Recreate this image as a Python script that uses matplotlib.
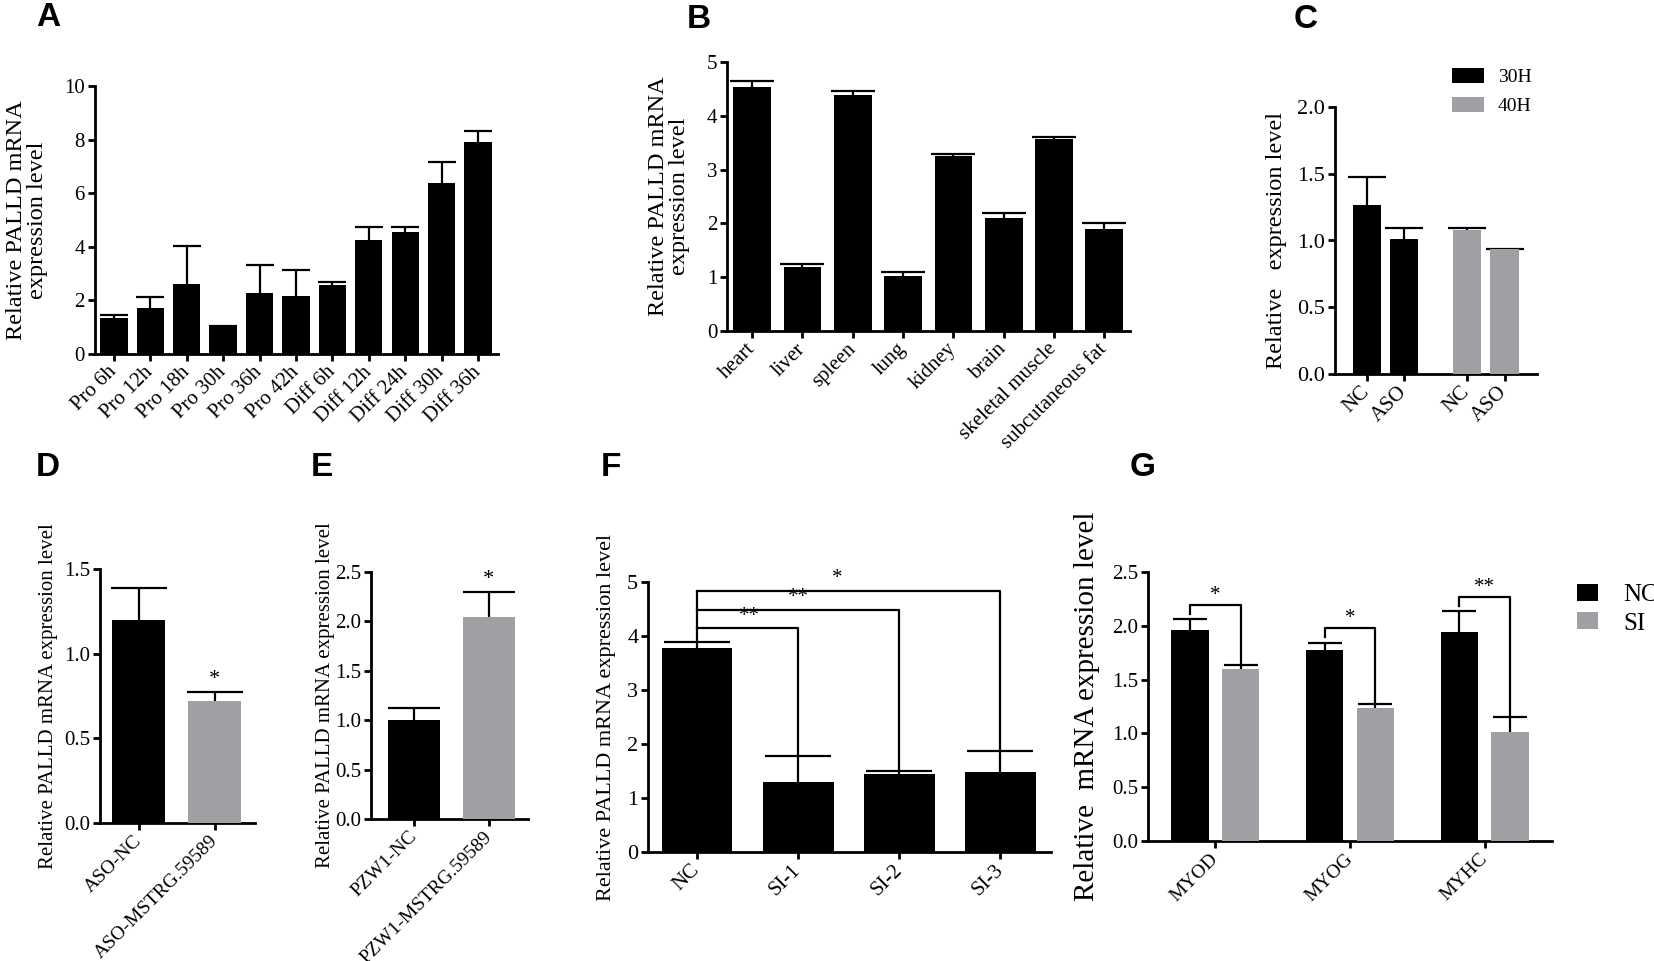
import numpy as np
import matplotlib
matplotlib.use("Agg")
import matplotlib.pyplot as plt

plt.rcParams['font.family'] = ['Liberation Serif', 'DejaVu Serif']
plt.rcParams['axes.linewidth'] = 2.0

GREY = '#a0a0a4'

# ---- A : time course
a_labels = ['Pro 6h', 'Pro 12h', 'Pro 18h', 'Pro 30h', 'Pro 36h', 'Pro 42h',
            'Diff 6h', 'Diff 12h', 'Diff 24h', 'Diff 30h', 'Diff 36h']
a_mean = [1.36, 1.71, 2.63, 1.03, 2.26, 2.16, 2.56, 4.27, 4.54, 6.39, 7.92]
a_err = [0.10, 0.40, 1.41, 0.00, 1.07, 0.98, 0.13, 0.46, 0.19, 0.77, 0.39]

# ---- B : tissues
b_labels = ['heart', 'liver', 'spleen', 'lung', 'kidney', 'brain',
            'skeletal muscle', 'subcutaneous fat']
b_mean = [4.53, 1.19, 4.39, 1.02, 3.26, 2.10, 3.57, 1.90]
b_err = [0.12, 0.05, 0.08, 0.07, 0.03, 0.10, 0.03, 0.10]

# ---- C : ASO at 30H / 40H
c_groups = ['30H', '40H']
c_labels = ['NC', 'ASO']
c_mean = {'30H': [1.265, 1.011], '40H': [1.078, 0.934]}
c_err = {'30H': [0.21, 0.085], '40H': [0.018, 0.005]}

# ---- D
d_labels = ['ASO-NC', 'ASO-MSTRG.59589']
d_mean = [1.199, 0.721]
d_err = [0.189, 0.052]
d_sig = ['', '*']

# ---- E
e_labels = ['PZW1-NC', 'PZW1-MSTRG.59589']
e_mean = [1.007, 2.045]
e_err = [0.118, 0.253]
e_sig = ['', '*']

# ---- F
f_labels = ['NC', 'SI-1', 'SI-2', 'SI-3']
f_mean = [3.775, 1.30, 1.44, 1.485]
f_err = [0.105, 0.48, 0.06, 0.39]
f_bracket = [4.14, 4.48, 4.83]
f_sig = ['**', '**', '*']

# ---- G
g_genes = ['MYOD', 'MYOG', 'MYHC']
g_nc = [1.963, 1.771, 1.942]
g_nc_err = [0.100, 0.072, 0.195]
g_si = [1.598, 1.238, 1.011]
g_si_err = [0.035, 0.034, 0.137]
g_bracket = [2.193, 1.98, 2.27]
g_sig = ['*', '*', '**']

W, H = 1654, 961
fig = plt.figure(figsize=(W / 100, H / 100), dpi=100)


def px_axes(left, top, right, bottom):
    return fig.add_axes([left / W, 1 - bottom / H, (right - left) / W, (bottom - top) / H])


def prism(ax, fs):
    ax.spines['top'].set_visible(False)
    ax.spines['right'].set_visible(False)
    ax.tick_params(axis='both', width=2, length=5, labelsize=fs, pad=2)


def ebar(ax, x, y, e, cap):
    eb = ax.errorbar(x, y, yerr=[np.zeros(len(e)), e], fmt='none', ecolor='black',
                     elinewidth=1.6, capsize=cap, capthick=1.6, zorder=2)
    eb[1][0].set_visible(False)


def ylab(ax, text, fs, xc):
    ax.set_ylabel(text, fontsize=fs, va='center', ha='center', linespacing=1.0)
    ax.yaxis.set_label_coords(xc, 0.5)


def xlabs(ax, pos, labels, fs):
    ax.set_xticks(pos)
    ax.set_xticklabels(labels, rotation=45, ha='right', va='center',
                       rotation_mode='anchor', fontsize=fs)
    ax.tick_params(axis='x', pad=6)


# ================= A
ax = px_axes(94.6, 86, 498, 354)
x = np.arange(len(a_labels))
ax.bar(x, a_mean, width=0.75, color='black', zorder=3)
ebar(ax, x, a_mean, a_err, 10)
ax.set_ylim(0, 10)
ax.set_yticks([0, 2, 4, 6, 8, 10])
ax.set_xlim(-0.53, 10.55)
prism(ax, 15)
xlabs(ax, x, a_labels, 15)
ylab(ax, 'Relative PALLD mRNA\nexpression level', 17.5, -0.168)

# ================= B
ax = px_axes(727, 62, 1130, 331)
x = np.arange(len(b_labels))
ax.bar(x, b_mean, width=0.75, color='black', zorder=3)
ebar(ax, x, b_mean, b_err, 16)
ax.set_ylim(0, 5)
ax.set_xlim(-0.5, 7.51)
prism(ax, 15)
xlabs(ax, x, b_labels, 15)
ylab(ax, 'Relative PALLD mRNA\nexpression level', 17.5, -0.144)

# ================= C
ax = px_axes(1334.6, 107, 1537, 374)
c_pos = []
for gi, (g, col) in enumerate(zip(c_groups, ['black', GREY])):
    x = np.arange(len(c_labels)) + gi * 2.66
    c_pos.extend(x)
    ax.bar(x, c_mean[g], width=0.75, color=col, zorder=3, label=g)
    ebar(ax, x, c_mean[g], c_err[g], 14)
ax.set_ylim(0, 2.0)
ax.set_yticks([0, 0.5, 1.0, 1.5, 2.0])
ax.set_yticklabels(['0.0', '0.5', '1.0', '1.5', '2.0'])
ax.set_xlim(-0.85, 4.52)
prism(ax, 16)
xlabs(ax, c_pos, c_labels * 2, 15)
ylab(ax, 'Relative   expression level', 17.5, -0.287)
ax.legend(loc='upper left', bbox_to_anchor=(1452 / W, 1 - 68 / H),
          bbox_transform=fig.transFigure, frameon=False, fontsize=14,
          handlelength=1.65, handleheight=0.8, handletextpad=0.7,
          labelspacing=0.55, borderpad=0, borderaxespad=0)

# ================= D
ax = px_axes(100, 569, 255, 823)
x = np.arange(len(d_labels))
ax.bar(x, d_mean, width=0.7, color=['black', GREY], zorder=3)
ebar(ax, x, d_mean, d_err, 20)
for xi, m, e, s in zip(x, d_mean, d_err, d_sig):
    ax.text(xi, m + e + 0.02, s, ha='center', va='bottom', fontsize=16)
ax.set_ylim(0, 1.5)
ax.set_yticks([0, 0.5, 1.0, 1.5])
ax.set_yticklabels(['0.0', '0.5', '1.0', '1.5'])
ax.set_xlim(-0.51, 1.53)
prism(ax, 15)
xlabs(ax, x, d_labels, 14)
ylab(ax, 'Relative PALLD mRNA expression level', 15, -0.335)

# ================= E
ax = px_axes(371, 572, 528, 819)
x = np.arange(len(e_labels))
ax.bar(x, e_mean, width=0.7, color=['black', GREY], zorder=3)
ebar(ax, x, e_mean, e_err, 19)
for xi, m, e, s in zip(x, e_mean, e_err, e_sig):
    ax.text(xi, m + e + 0.03, s, ha='center', va='bottom', fontsize=16)
ax.set_ylim(0, 2.5)
ax.set_yticks([0, 0.5, 1.0, 1.5, 2.0, 2.5])
ax.set_yticklabels(['0.0', '0.5', '1.0', '1.5', '2.0', '2.5'])
ax.set_xlim(-0.57, 1.52)
prism(ax, 15)
xlabs(ax, x, e_labels, 14)
ylab(ax, 'Relative PALLD mRNA expression level', 15, -0.287)

# ================= F
ax = px_axes(648, 582, 1051, 852)
x = np.arange(len(f_labels))
ax.bar(x, f_mean, width=0.7, color='black', zorder=3)
ebar(ax, x, f_mean, f_err, 24)
ax.vlines(0, f_mean[0] + f_err[0], max(f_bracket), color='black', lw=1.6)
f_star_x = [0.52, 1.0, 1.39]
for j, (h, s) in enumerate(zip(f_bracket, f_sig)):
    k = j + 1
    ax.plot([0, k, k], [h, h, f_mean[k] + f_err[k]], color='black', lw=1.6)
    ax.text(f_star_x[j], h + 0.05, s, ha='center', va='bottom', fontsize=15)
ax.set_ylim(0, 5)
ax.set_xlim(-0.485, 3.5)
prism(ax, 16)
xlabs(ax, x, f_labels, 15)
ylab(ax, 'Relative PALLD mRNA expression level', 16, -0.103)

# ================= G
ax = px_axes(1148, 572, 1552, 841)
x = np.arange(len(g_genes))
off = 0.188
ax.bar(x - off, g_nc, width=0.275, color='black', zorder=3, label='NC')
ax.bar(x + off, g_si, width=0.275, color=GREY, zorder=3, label='SI')
ebar(ax, x - off, g_nc, g_nc_err, 12)
ebar(ax, x + off, g_si, g_si_err, 12)
for xi, h, s, n, ne, si, se in zip(x, g_bracket, g_sig, g_nc, g_nc_err, g_si, g_si_err):
    ax.plot([xi - off, xi - off, xi + off, xi + off],
            [n + ne + 0.05, h, h, si + se], color='black', lw=1.6)
    ax.text(xi, h + 0.0, s, ha='center', va='bottom', fontsize=15)
ax.set_ylim(0, 2.5)
ax.set_yticks([0, 0.5, 1.0, 1.5, 2.0, 2.5])
ax.set_yticklabels(['0.0', '0.5', '1.0', '1.5', '2.0', '2.5'])
ax.set_xlim(-0.5, 2.5)
prism(ax, 15)
xlabs(ax, x, g_genes, 14)
ylab(ax, 'Relative  mRNA expression level', 21, -0.15)
ax.legend(loc='upper left', bbox_to_anchor=(1577 / W, 1 - 584 / H),
          bbox_transform=fig.transFigure, frameon=False, fontsize=18,
          handlelength=0.85, handleheight=0.65, handletextpad=1.0,
          labelspacing=0.25, borderpad=0, borderaxespad=0)

# ================= panel letters
for lab, px, py in [('A', 36, 2), ('B', 687, 4), ('C', 1294, 4),
                    ('D', 36, 452), ('E', 311, 452), ('F', 601, 452), ('G', 1130, 452)]:
    fig.text(px / W, 1 - py / H, lab, fontsize=24, fontweight='bold',
             family='Liberation Sans', ha='left', va='top')

fig.savefig('out.png', dpi=100)
